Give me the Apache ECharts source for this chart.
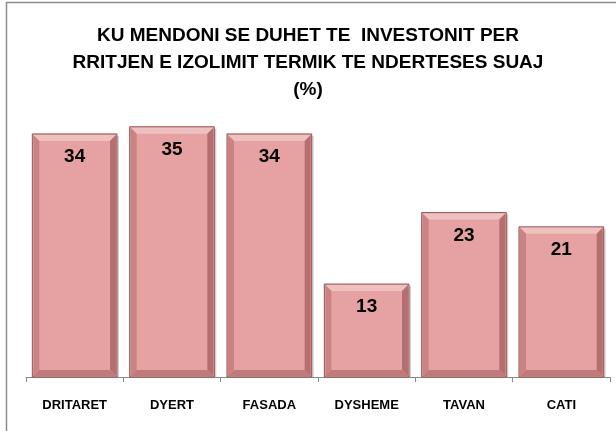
<!DOCTYPE html>
<html>
<head>
<meta charset="utf-8">
<script src="https://cdn.jsdelivr.net/npm/echarts@6/dist/echarts.min.js"></script>
<style>
  html, body { margin: 0; padding: 0; background: #fff; }
  #chart { width: 616px; height: 431px; }
</style>
</head>
<body>
<div id="chart"></div>
<script>
var categories = ['DRITARET', 'DYERT', 'FASADA', 'DYSHEME', 'TAVAN', 'CATI'];
var values = [34, 35, 34, 13, 23, 21];
var titleLines = [
    'KU MENDONI SE DUHET TE  INVESTONIT PER',
    'RRITJEN E IZOLIMIT TERMIK TE NDERTESES SUAJ',
    '(%)'
];

var chart = echarts.init(document.getElementById('chart'));

// bar kinda beveled like the excel one
function renderBevelBar(params, api) {
    var idx = api.value(0);
    var top = api.coord([idx, api.value(1)]);
    var base = api.coord([idx, 0]);
    var w = api.size([1, 0])[0] * 0.87;
    var x0 = top[0] - w / 2, x1 = top[0] + w / 2;
    var y0 = top[1], y1 = base[1];
    var b = 7;
    return {
        type: 'group',
        children: [
            { type: 'rect', shape: { x: x0 + 2, y: y0 + 2, width: w, height: y1 - y0 - 2 },
              style: { fill: 'rgba(0,0,0,0.18)' } },
            { type: 'rect', shape: { x: x0, y: y0, width: w, height: y1 - y0 },
              style: { fill: '#e6a2a2', stroke: '#9a5454', lineWidth: 1 } },
            { type: 'polygon', shape: { points: [[x0 + 1, y0 + 1], [x1 - 1, y0 + 1], [x1 - b, y0 + b], [x0 + b, y0 + b]] },
              style: { fill: '#efc0c0' } },
            { type: 'polygon', shape: { points: [[x0 + 1, y0 + 1], [x0 + b, y0 + b], [x0 + b, y1 - b], [x0 + 1, y1 - 1]] },
              style: { fill: '#c98383' } },
            { type: 'polygon', shape: { points: [[x1 - 1, y0 + 1], [x1 - 1, y1 - 1], [x1 - b, y1 - b], [x1 - b, y0 + b]] },
              style: { fill: '#b56f6f' } },
            { type: 'polygon', shape: { points: [[x0 + 1, y1 - 1], [x1 - 1, y1 - 1], [x1 - b, y1 - b], [x0 + b, y1 - b]] },
              style: { fill: '#c07a7a' } },
            { type: 'text', x: top[0], y: y0 + 23,
              style: { text: String(api.value(1)), fill: '#000', font: 'bold 19px "Liberation Sans"',
                       align: 'center', verticalAlign: 'middle' } }
        ]
    };
}

var option = {
    animation: false,
    title: {
        text: titleLines.join('\n'),
        left: 'center',
        top: 17,
        textStyle: {
            fontFamily: 'Liberation Sans',
            fontWeight: 'bold',
            fontSize: 19,
            lineHeight: 27,
            color: '#000'
        }
    },
    graphic: [{
        type: 'rect',
        shape: { x: 6.5, y: 2.5, width: 640, height: 460 },
        style: { fill: 'none', stroke: '#8c8c8c', lineWidth: 1.5 },
        z: 100
    }],
    grid: {
        left: 26,
        right: 6,
        top: 91,
        bottom: 54
    },
    xAxis: {
        type: 'category',
        data: categories,
        axisLine: { lineStyle: { color: '#888', width: 1 } },
        axisTick: { show: true, length: 5, lineStyle: { color: '#888' } },
        axisLabel: {
            color: '#000',
            fontFamily: 'Liberation Sans',
            fontWeight: 'bold',
            fontSize: 13,
            margin: 22
        }
    },
    yAxis: {
        type: 'value',
        min: 0,
        max: 40,
        show: false
    },
    series: [{
        type: 'custom',
        renderItem: renderBevelBar,
        data: values.map(function (v, i) { return [i, v]; })
    }]
};

chart.setOption(option);
</script>
</body>
</html>
